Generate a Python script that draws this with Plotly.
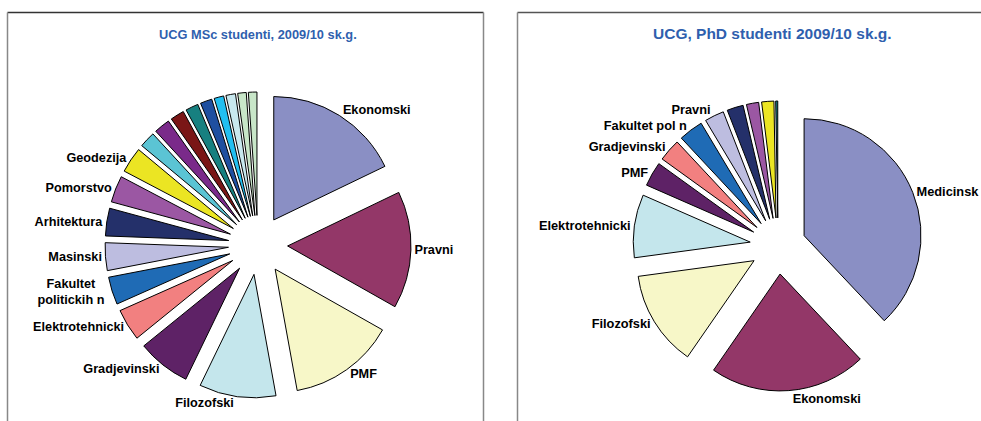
import plotly.graph_objects as go

W, H = 981, 421

# ---- MSc (left) ----
msc_labels = ["Ekonomski", "Pravni", "PMF", "Filozofski", "Gradjevinski",
              "Elektrotehnicki", "Fakultet politickih n", "Masinski", "Arhitektura",
              "Pomorstvo", "Geodezija", "Medicinski", "Metalursko-tehnoloski",
              "Biotehnicki", "Turizam i hotelijerstvo", "Fizicka kultura",
              "Likovna akademija", "Muzicka akademija", "Dramski", "Fizioterapija"]
msc_values = [64, 55, 50, 36, 25, 15, 13, 13, 13, 12.5, 12, 7.5, 7.5, 6.5, 6, 5.5, 4.5, 4.5, 4, 4]
msc_text = ["Ekonomski", "Pravni", "PMF", "Filozofski", "Gradjevinski",
            "Elektrotehnicki", "Fakultet<br>politickih n", "Masinski", "Arhitektura",
            "Pomorstvo", "Geodezija", "", "", "", "", "", "", "", "", ""]
msc_colors = ["#8a8fc4", "#933768", "#f7f7c8", "#c4e6ec", "#5e2266", "#f28080",
              "#1f6bb5", "#bdbde0", "#24306a", "#9b57a3", "#ebe523", "#5bc4d4",
              "#7a2a8a", "#7a1616", "#178080", "#1f4fa0", "#22bff0", "#c8e8ee",
              "#c8e6c8", "#c8e6c8"]

# ---- PhD (right) ----
phd_labels = ["Medicinsk", "Ekonomski", "Filozofski", "Elektrotehnicki", "PMF",
              "Gradjevinski", "Fakultet pol n", "Pravni", "Masinski", "Pomorstvo",
              "Arhitektura", "Geodezija"]
phd_values = [135, 77, 47, 31, 12, 11, 12, 9.5, 8, 6, 6, 1]
phd_text = ["Medicinsk", "Ekonomski", "Filozofski", "Elektrotehnicki", "PMF",
            "Gradjevinski", "Fakultet pol n", "Pravni", "", "", "", ""]
phd_colors = ["#8a8fc4", "#933768", "#f7f7c8", "#c4e6ec", "#5e2266", "#f28080",
              "#1f6bb5", "#bdbde0", "#24306a", "#9b57a3", "#ebe523", "#178080"]


def dom(cx, cy, half):
    return dict(x=[(cx - half) / W, (cx + half) / W],
                y=[1 - (cy + half) / H, 1 - (cy - half) / H])


def tpos(texts):
    return ["outside" if t else "none" for t in texts]


FONT = "Liberation Sans, Arial"

fig = go.Figure()
fig.add_trace(go.Pie(
    labels=msc_labels, values=msc_values, text=msc_text, textinfo="text",
    textposition=tpos(msc_text), sort=False, direction="clockwise", rotation=0,
    pull=0.24, domain=dom(258, 245, 153), automargin=False,
    marker=dict(colors=msc_colors, line=dict(color="#000000", width=1)),
    outsidetextfont=dict(family=FONT, size=12.7, color="#000000"),
    hoverinfo="label+value", showlegend=False,
))
fig.add_trace(go.Pie(
    labels=phd_labels, values=phd_values, text=phd_text, textinfo="text",
    textposition=tpos(phd_text), sort=False, direction="clockwise", rotation=0,
    pull=0.24, domain=dom(778, 246, 145), automargin=False,
    marker=dict(colors=phd_colors, line=dict(color="#000000", width=1)),
    outsidetextfont=dict(family=FONT, size=12.8, color="#000000"),
    hoverinfo="label+value", showlegend=False,
))

fig.update_layout(
    width=W, height=H, margin=dict(l=0, r=0, t=0, b=0, pad=0, autoexpand=False),
    paper_bgcolor="#ffffff", plot_bgcolor="#ffffff",
    font=dict(family=FONT, size=12, color="#000000"),
    shapes=[
        dict(type="line", xref="paper", yref="paper",
             x0=7.5 / W, x1=483.5 / W, y0=1 - 12.5 / H, y1=1 - 12.5 / H,
             line=dict(color="#333333", width=1.5)),
        dict(type="line", xref="paper", yref="paper",
             x0=7.5 / W, x1=7.5 / W, y0=0, y1=1 - 12.5 / H,
             line=dict(color="#888888", width=1.5)),
        dict(type="line", xref="paper", yref="paper",
             x0=483.5 / W, x1=483.5 / W, y0=0, y1=1 - 12.5 / H,
             line=dict(color="#888888", width=1.5)),
        dict(type="line", xref="paper", yref="paper",
             x0=517.5 / W, x1=1, y0=1 - 12.5 / H, y1=1 - 12.5 / H,
             line=dict(color="#555555", width=1.5)),
        dict(type="line", xref="paper", yref="paper",
             x0=517.5 / W, x1=517.5 / W, y0=0, y1=1 - 12.5 / H,
             line=dict(color="#888888", width=1.5)),
    ],
    annotations=[
        dict(text="<b>UCG MSc studenti, 2009/10 sk.g.</b>", xref="paper", yref="paper",
             x=258 / W, y=1 - 34 / H, showarrow=False, xanchor="center", yanchor="middle",
             font=dict(family=FONT, size=12.8, color="#2f5fae")),
        dict(text="<b>UCG, PhD studenti 2009/10 sk.g.</b>", xref="paper", yref="paper",
             x=772 / W, y=1 - 33 / H, showarrow=False, xanchor="center", yanchor="middle",
             font=dict(family=FONT, size=15.5, color="#2f5fae")),
    ],
)
fig.update_traces(texttemplate="<b>%{text}</b>")

fig.write_html("out.html", config={"displayModeBar": False},
               post_script="document.body.style.margin='0';")
